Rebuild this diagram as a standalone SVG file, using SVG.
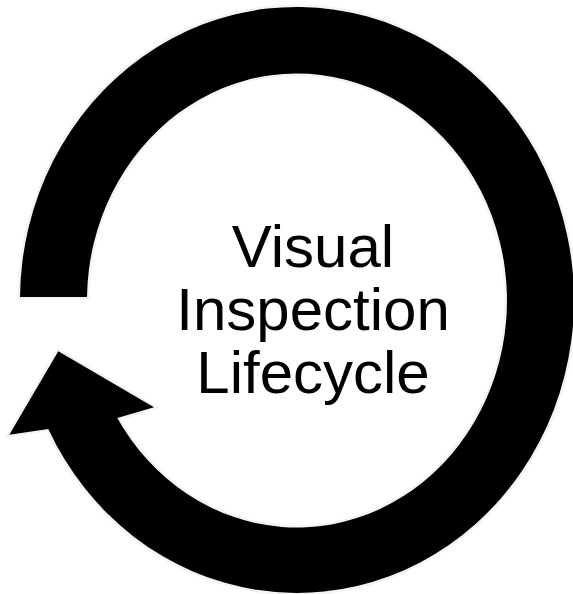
<svg xmlns="http://www.w3.org/2000/svg" width="573" height="594" viewBox="0 0 573 594">
<style>
.arrow{fill:#000;stroke:#f4f4f4;stroke-width:5;stroke-linejoin:miter;paint-order:stroke}
.label{font-family:"Liberation Sans",Arial,sans-serif;font-size:60px;fill:#000;text-anchor:middle}
</style>
<rect width="573" height="594" fill="#fff"/>
<g id="connectors">
<path id="cycle-arrow" class="arrow" d="M 20 297 A 277 293 0 1 1 48.3 429 L 9.3 434.7 L 58.3 351.3 L 154 407.3 L 117.3 418 A 210 227 0 1 0 87 297 Z"/>
</g>
<g id="title">
<text class="label" x="313" y="267">Visual</text>
<text class="label" x="313" y="330">Inspection</text>
<text class="label" x="313" y="393">Lifecycle</text>
</g>
</svg>
